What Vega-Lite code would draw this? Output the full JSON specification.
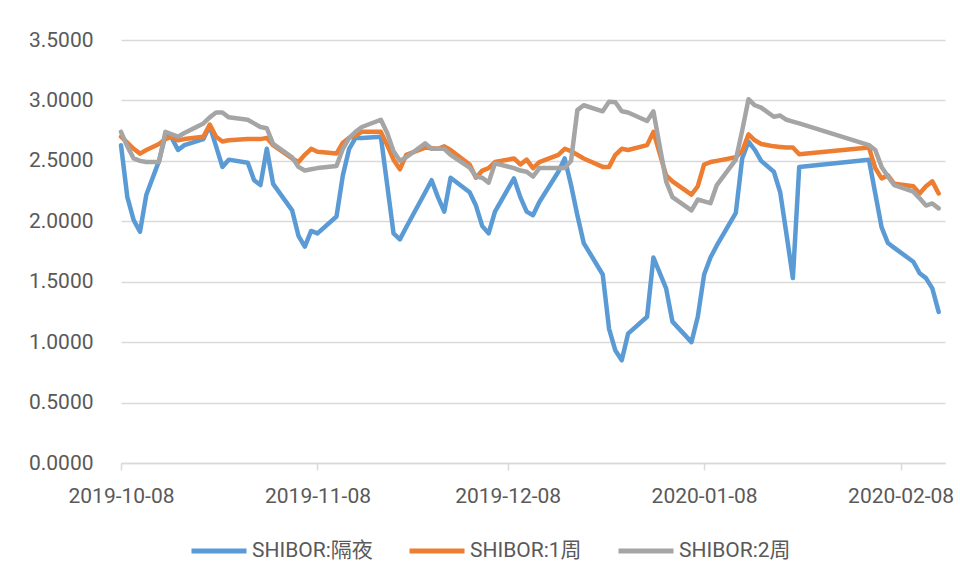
{
  "$schema": "https://vega.github.io/schema/vega-lite/v6.json",
  "width": 824,
  "height": 423,
  "autosize": "none",
  "padding": {"left": 121, "top": 40, "right": 15, "bottom": 116},
  "background": "white",
  "config": {
    "font": "Roboto",
    "view": {"stroke": null},
    "axis": {
      "labelFont": "Roboto",
      "labelFontSize": 21,
      "labelColor": "#595959",
      "gridColor": "#d9d9d9",
      "gridWidth": 1.5,
      "domainColor": "#d9d9d9",
      "domainWidth": 1.5,
      "tickColor": "#d9d9d9",
      "tickWidth": 1.5,
      "title": null
    }
  },
  "data": {
    "values": [
      {"date": "2019-10-08", "on": 2.63, "w1": 2.70, "w2": 2.74},
      {"date": "2019-10-09", "on": 2.20, "w1": 2.65, "w2": 2.62},
      {"date": "2019-10-10", "on": 2.01, "w1": 2.60, "w2": 2.52},
      {"date": "2019-10-11", "on": 1.914, "w1": 2.56, "w2": 2.50},
      {"date": "2019-10-12", "on": 2.22, "w1": 2.59, "w2": 2.49},
      {"date": "2019-10-14", "on": 2.50, "w1": 2.64, "w2": 2.49},
      {"date": "2019-10-15", "on": 2.71, "w1": 2.68, "w2": 2.74},
      {"date": "2019-10-16", "on": 2.69, "w1": 2.70, "w2": 2.72},
      {"date": "2019-10-17", "on": 2.59, "w1": 2.67, "w2": 2.70},
      {"date": "2019-10-18", "on": 2.63, "w1": 2.68, "w2": 2.73},
      {"date": "2019-10-21", "on": 2.68, "w1": 2.70, "w2": 2.81},
      {"date": "2019-10-22", "on": 2.79, "w1": 2.80, "w2": 2.86},
      {"date": "2019-10-23", "on": 2.62, "w1": 2.70, "w2": 2.90},
      {"date": "2019-10-24", "on": 2.45, "w1": 2.66, "w2": 2.90},
      {"date": "2019-10-25", "on": 2.51, "w1": 2.67, "w2": 2.86},
      {"date": "2019-10-28", "on": 2.485, "w1": 2.68, "w2": 2.84},
      {"date": "2019-10-29", "on": 2.34, "w1": 2.68, "w2": 2.81},
      {"date": "2019-10-30", "on": 2.30, "w1": 2.68, "w2": 2.78},
      {"date": "2019-10-31", "on": 2.60, "w1": 2.69, "w2": 2.77},
      {"date": "2019-11-01", "on": 2.31, "w1": 2.63, "w2": 2.64},
      {"date": "2019-11-04", "on": 2.09, "w1": 2.52, "w2": 2.53},
      {"date": "2019-11-05", "on": 1.88, "w1": 2.49, "w2": 2.45},
      {"date": "2019-11-06", "on": 1.79, "w1": 2.55, "w2": 2.42},
      {"date": "2019-11-07", "on": 1.92, "w1": 2.60, "w2": 2.43},
      {"date": "2019-11-08", "on": 1.90, "w1": 2.575, "w2": 2.44},
      {"date": "2019-11-11", "on": 2.04, "w1": 2.56, "w2": 2.457},
      {"date": "2019-11-12", "on": 2.38, "w1": 2.65, "w2": 2.60},
      {"date": "2019-11-13", "on": 2.60, "w1": 2.69, "w2": 2.69},
      {"date": "2019-11-14", "on": 2.69, "w1": 2.71, "w2": 2.74},
      {"date": "2019-11-15", "on": 2.69, "w1": 2.74, "w2": 2.78},
      {"date": "2019-11-18", "on": 2.70, "w1": 2.74, "w2": 2.84},
      {"date": "2019-11-19", "on": 2.30, "w1": 2.63, "w2": 2.73},
      {"date": "2019-11-20", "on": 1.90, "w1": 2.51, "w2": 2.58},
      {"date": "2019-11-21", "on": 1.85, "w1": 2.43, "w2": 2.50},
      {"date": "2019-11-22", "on": 1.95, "w1": 2.55, "w2": 2.53},
      {"date": "2019-11-25", "on": 2.24, "w1": 2.61, "w2": 2.645},
      {"date": "2019-11-26", "on": 2.34, "w1": 2.605, "w2": 2.60},
      {"date": "2019-11-27", "on": 2.20, "w1": 2.60, "w2": 2.60},
      {"date": "2019-11-28", "on": 2.08, "w1": 2.62, "w2": 2.60},
      {"date": "2019-11-29", "on": 2.36, "w1": 2.59, "w2": 2.55},
      {"date": "2019-12-02", "on": 2.24, "w1": 2.47, "w2": 2.445},
      {"date": "2019-12-03", "on": 2.13, "w1": 2.36, "w2": 2.37},
      {"date": "2019-12-04", "on": 1.96, "w1": 2.42, "w2": 2.36},
      {"date": "2019-12-05", "on": 1.90, "w1": 2.44, "w2": 2.32},
      {"date": "2019-12-06", "on": 2.08, "w1": 2.49, "w2": 2.48},
      {"date": "2019-12-09", "on": 2.355, "w1": 2.52, "w2": 2.44},
      {"date": "2019-12-10", "on": 2.20, "w1": 2.47, "w2": 2.42},
      {"date": "2019-12-11", "on": 2.08, "w1": 2.51, "w2": 2.41},
      {"date": "2019-12-12", "on": 2.05, "w1": 2.44, "w2": 2.37},
      {"date": "2019-12-13", "on": 2.16, "w1": 2.49, "w2": 2.44},
      {"date": "2019-12-16", "on": 2.41, "w1": 2.55, "w2": 2.44},
      {"date": "2019-12-17", "on": 2.52, "w1": 2.60, "w2": 2.44},
      {"date": "2019-12-18", "on": 2.30, "w1": 2.58, "w2": 2.50},
      {"date": "2019-12-19", "on": 2.05, "w1": 2.55, "w2": 2.92},
      {"date": "2019-12-20", "on": 1.82, "w1": 2.52, "w2": 2.96},
      {"date": "2019-12-23", "on": 1.56, "w1": 2.45, "w2": 2.91},
      {"date": "2019-12-24", "on": 1.11, "w1": 2.45, "w2": 2.99},
      {"date": "2019-12-25", "on": 0.93, "w1": 2.55, "w2": 2.985},
      {"date": "2019-12-26", "on": 0.85, "w1": 2.60, "w2": 2.91},
      {"date": "2019-12-27", "on": 1.07, "w1": 2.59, "w2": 2.90},
      {"date": "2019-12-30", "on": 1.21, "w1": 2.63, "w2": 2.83},
      {"date": "2019-12-31", "on": 1.70, "w1": 2.74, "w2": 2.91},
      {"date": "2020-01-02", "on": 1.445, "w1": 2.38, "w2": 2.33},
      {"date": "2020-01-03", "on": 1.17, "w1": 2.33, "w2": 2.20},
      {"date": "2020-01-06", "on": 1.00, "w1": 2.22, "w2": 2.09},
      {"date": "2020-01-07", "on": 1.21, "w1": 2.29, "w2": 2.18},
      {"date": "2020-01-08", "on": 1.56, "w1": 2.47, "w2": 2.165},
      {"date": "2020-01-09", "on": 1.70, "w1": 2.49, "w2": 2.15},
      {"date": "2020-01-10", "on": 1.80, "w1": 2.50, "w2": 2.30},
      {"date": "2020-01-13", "on": 2.07, "w1": 2.53, "w2": 2.51},
      {"date": "2020-01-14", "on": 2.52, "w1": 2.58, "w2": 2.75},
      {"date": "2020-01-15", "on": 2.66, "w1": 2.72, "w2": 3.01},
      {"date": "2020-01-16", "on": 2.59, "w1": 2.67, "w2": 2.96},
      {"date": "2020-01-17", "on": 2.50, "w1": 2.64, "w2": 2.94},
      {"date": "2020-01-19", "on": 2.41, "w1": 2.62, "w2": 2.865},
      {"date": "2020-01-20", "on": 2.24, "w1": 2.615, "w2": 2.875},
      {"date": "2020-01-21", "on": 1.89, "w1": 2.61, "w2": 2.84},
      {"date": "2020-01-22", "on": 1.53, "w1": 2.61, "w2": 2.825},
      {"date": "2020-01-23", "on": 2.45, "w1": 2.555, "w2": 2.81},
      {"date": "2020-02-03", "on": 2.51, "w1": 2.61, "w2": 2.63},
      {"date": "2020-02-04", "on": 2.23, "w1": 2.44, "w2": 2.59},
      {"date": "2020-02-05", "on": 1.95, "w1": 2.355, "w2": 2.45},
      {"date": "2020-02-06", "on": 1.82, "w1": 2.38, "w2": 2.37},
      {"date": "2020-02-07", "on": 1.78, "w1": 2.31, "w2": 2.30},
      {"date": "2020-02-10", "on": 1.665, "w1": 2.29, "w2": 2.245},
      {"date": "2020-02-11", "on": 1.57, "w1": 2.23, "w2": 2.19},
      {"date": "2020-02-12", "on": 1.53, "w1": 2.29, "w2": 2.13},
      {"date": "2020-02-13", "on": 1.445, "w1": 2.33, "w2": 2.148},
      {"date": "2020-02-14", "on": 1.25, "w1": 2.23, "w2": 2.107}
    ]
  },
  "encoding": {
    "x": {
      "field": "date",
      "type": "temporal",
      "scale": {
        "type": "utc",
        "domain": [
          {"year": 2019, "month": 10, "date": 8, "utc": true},
          {"year": 2020, "month": 2, "date": 15, "utc": true}
        ]
      },
      "axis": {
        "values": [
          {"year": 2019, "month": 10, "date": 8, "utc": true},
          {"year": 2019, "month": 11, "date": 8, "utc": true},
          {"year": 2019, "month": 12, "date": 8, "utc": true},
          {"year": 2020, "month": 1, "date": 8, "utc": true},
          {"year": 2020, "month": 2, "date": 8, "utc": true}
        ],
        "labelExpr": "utcFormat(datum.value, '%Y-%m-%d')",
        "grid": false,
        "tickSize": 7,
        "labelPadding": 15,
        "labelFlush": false,
        "labelOverlap": false,
        "title": null
      }
    }
  },
  "layer": [
    {
      "mark": {"type": "line", "strokeWidth": 4.5, "strokeCap": "round", "strokeJoin": "round"},
      "encoding": {
        "y": {
          "field": "on",
          "type": "quantitative",
          "scale": {"domain": [0, 3.5]},
          "axis": {
            "values": [0, 0.5, 1, 1.5, 2, 2.5, 3, 3.5],
            "format": ".4f",
            "domain": false,
            "ticks": false,
            "labelPadding": 28,
            "grid": true,
            "title": null
          }
        },
        "color": {
          "datum": "SHIBOR:隔夜",
          "type": "nominal",
          "scale": {
            "domain": ["SHIBOR:隔夜", "SHIBOR:1周", "SHIBOR:2周"],
            "range": ["#5B9BD5", "#ED7D31", "#A5A5A5"]
          },
          "legend": {
            "orient": "none",
            "legendX": 68,
            "legendY": 481,
            "direction": "horizontal",
            "title": null,
            "symbolType": "stroke",
            "symbolSize": 3025,
            "symbolStrokeWidth": 5,
            "labelFont": "Roboto, Noto Sans CJK SC",
            "labelFontSize": 21,
            "labelColor": "#595959",
            "labelOffset": 3,
            "columnPadding": 26
          }
        }
      }
    },
    {
      "mark": {"type": "line", "strokeWidth": 4.5, "strokeCap": "round", "strokeJoin": "round"},
      "encoding": {
        "y": {"field": "w1", "type": "quantitative"},
        "color": {"datum": "SHIBOR:1周", "type": "nominal"}
      }
    },
    {
      "mark": {"type": "line", "strokeWidth": 4.5, "strokeCap": "round", "strokeJoin": "round"},
      "encoding": {
        "y": {"field": "w2", "type": "quantitative"},
        "color": {"datum": "SHIBOR:2周", "type": "nominal"}
      }
    }
  ]
}
